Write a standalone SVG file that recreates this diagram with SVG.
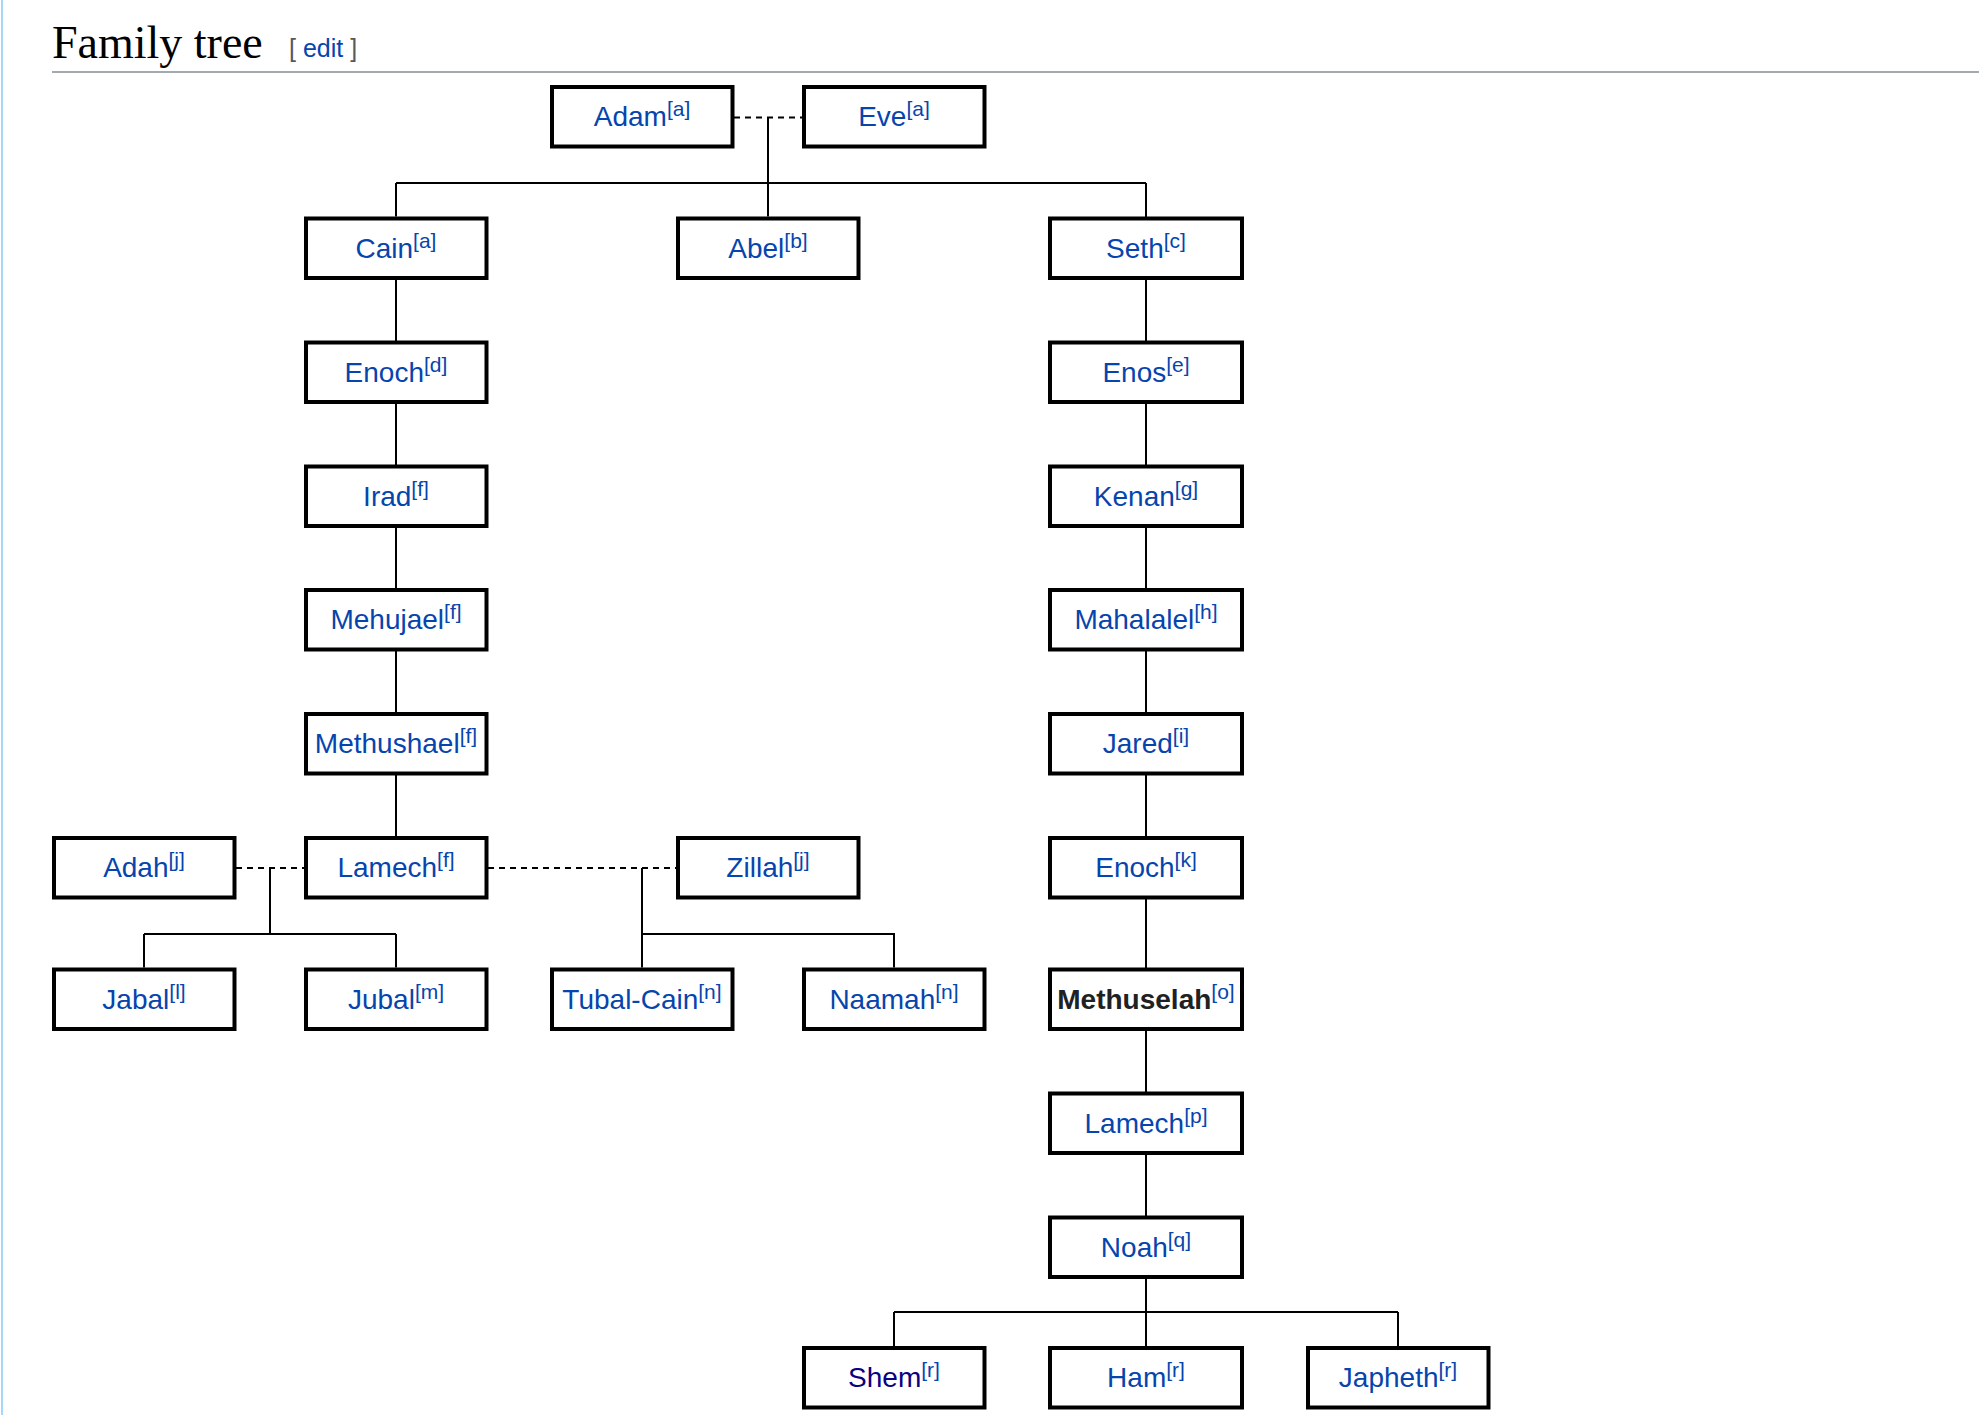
<svg xmlns="http://www.w3.org/2000/svg" width="1979" height="1415" viewBox="0 0 1979 1415">
<style>
.box{fill:#fff;stroke:#000;stroke-width:4}
.lbl{font-family:"Liberation Sans",Arial,Helvetica,sans-serif;font-size:28px;fill:#0645ad;text-anchor:middle}
.sup{font-size:21px}
.conn{fill:none;stroke:#000;stroke-width:2}
.dash{stroke-dasharray:6 5}
.title{font-family:"Liberation Serif","Times New Roman",serif;font-size:46px;fill:#000}
.edit{font-family:"Liberation Sans",Arial,sans-serif;font-size:25px;fill:#54595d}
</style>
<rect x="0" y="0" width="1979" height="1415" fill="#fff"/>
<rect x="1" y="0" width="2" height="1415" fill="#a7d7f9"/>
<g id="heading">
<text class="title" x="52" y="58">Family tree</text>
<text class="edit" x="289" y="57">[ <tspan fill="#0645ad">edit</tspan> ]</text>
<rect x="52" y="71" width="1927" height="2" fill="#a2a9b1"/>
</g>
<g id="connectors">
<path class="conn dash" d="M734 117.5H802M236 868H304M488 868H676"/>
<path class="conn" d="M768 117.5V216.5M396 183H1146M396 183V216.5M1146 183V1346M396 280V836M270 868V934M144 934H396M144 934V967.5M396 934V967.5M642 868V934H894V967.5M642 934V967.5M894 1312H1398M894 1312V1346M1398 1312V1346"/>
</g>
<g id="adam"><rect class="box" x="552" y="87" width="180.5" height="59.5"/><text class="lbl" x="642" y="126">Adam<tspan class="sup" dy="-10">[a]</tspan></text></g>
<g id="eve"><rect class="box" x="804" y="87" width="180.5" height="59.5"/><text class="lbl" x="894" y="126">Eve<tspan class="sup" dy="-10">[a]</tspan></text></g>
<g id="cain"><rect class="box" x="306" y="218.5" width="180.5" height="59.5"/><text class="lbl" x="396" y="257.5">Cain<tspan class="sup" dy="-10">[a]</tspan></text></g>
<g id="abel"><rect class="box" x="678" y="218.5" width="180.5" height="59.5"/><text class="lbl" x="768" y="257.5">Abel<tspan class="sup" dy="-10">[b]</tspan></text></g>
<g id="seth"><rect class="box" x="1050" y="218.5" width="192" height="59.5"/><text class="lbl" x="1146" y="257.5">Seth<tspan class="sup" dy="-10">[c]</tspan></text></g>
<g id="enoch-d"><rect class="box" x="306" y="342.5" width="180.5" height="59.5"/><text class="lbl" x="396" y="381.5">Enoch<tspan class="sup" dy="-10">[d]</tspan></text></g>
<g id="enos"><rect class="box" x="1050" y="342.5" width="192" height="59.5"/><text class="lbl" x="1146" y="381.5">Enos<tspan class="sup" dy="-10">[e]</tspan></text></g>
<g id="irad"><rect class="box" x="306" y="466.5" width="180.5" height="59.5"/><text class="lbl" x="396" y="505.5">Irad<tspan class="sup" dy="-10">[f]</tspan></text></g>
<g id="kenan"><rect class="box" x="1050" y="466.5" width="192" height="59.5"/><text class="lbl" x="1146" y="505.5">Kenan<tspan class="sup" dy="-10">[g]</tspan></text></g>
<g id="mehujael"><rect class="box" x="306" y="590" width="180.5" height="59.5"/><text class="lbl" x="396" y="629">Mehujael<tspan class="sup" dy="-10">[f]</tspan></text></g>
<g id="mahalalel"><rect class="box" x="1050" y="590" width="192" height="59.5"/><text class="lbl" x="1146" y="629">Mahalalel<tspan class="sup" dy="-10">[h]</tspan></text></g>
<g id="methushael"><rect class="box" x="306" y="714" width="180.5" height="59.5"/><text class="lbl" x="396" y="753">Methushael<tspan class="sup" dy="-10">[f]</tspan></text></g>
<g id="jared"><rect class="box" x="1050" y="714" width="192" height="59.5"/><text class="lbl" x="1146" y="753">Jared<tspan class="sup" dy="-10">[i]</tspan></text></g>
<g id="adah"><rect class="box" x="54" y="838" width="180.5" height="59.5"/><text class="lbl" x="144" y="877">Adah<tspan class="sup" dy="-10">[j]</tspan></text></g>
<g id="lamech-f"><rect class="box" x="306" y="838" width="180.5" height="59.5"/><text class="lbl" x="396" y="877">Lamech<tspan class="sup" dy="-10">[f]</tspan></text></g>
<g id="zillah"><rect class="box" x="678" y="838" width="180.5" height="59.5"/><text class="lbl" x="768" y="877">Zillah<tspan class="sup" dy="-10">[j]</tspan></text></g>
<g id="enoch-k"><rect class="box" x="1050" y="838" width="192" height="59.5"/><text class="lbl" x="1146" y="877">Enoch<tspan class="sup" dy="-10">[k]</tspan></text></g>
<g id="jabal"><rect class="box" x="54" y="969.5" width="180.5" height="59.5"/><text class="lbl" x="144" y="1008.5">Jabal<tspan class="sup" dy="-10">[l]</tspan></text></g>
<g id="jubal"><rect class="box" x="306" y="969.5" width="180.5" height="59.5"/><text class="lbl" x="396" y="1008.5">Jubal<tspan class="sup" dy="-10">[m]</tspan></text></g>
<g id="tubal-cain"><rect class="box" x="552" y="969.5" width="180.5" height="59.5"/><text class="lbl" x="642" y="1008.5">Tubal-Cain<tspan class="sup" dy="-10">[n]</tspan></text></g>
<g id="naamah"><rect class="box" x="804" y="969.5" width="180.5" height="59.5"/><text class="lbl" x="894" y="1008.5">Naamah<tspan class="sup" dy="-10">[n]</tspan></text></g>
<g id="methuselah"><rect class="box" x="1050" y="969.5" width="192" height="59.5"/><text class="lbl" x="1146" y="1008.5"><tspan fill="#202122" font-weight="bold">Methuselah</tspan><tspan class="sup" dy="-10">[o]</tspan></text></g>
<g id="lamech-p"><rect class="box" x="1050" y="1093.5" width="192" height="59.5"/><text class="lbl" x="1146" y="1132.5">Lamech<tspan class="sup" dy="-10">[p]</tspan></text></g>
<g id="noah"><rect class="box" x="1050" y="1217.5" width="192" height="59.5"/><text class="lbl" x="1146" y="1256.5">Noah<tspan class="sup" dy="-10">[q]</tspan></text></g>
<g id="shem"><rect class="box" x="804" y="1348" width="180.5" height="59.5"/><text class="lbl" x="894" y="1387"><tspan fill="#0b0080">Shem</tspan><tspan class="sup" dy="-10">[r]</tspan></text></g>
<g id="ham"><rect class="box" x="1050" y="1348" width="192" height="59.5"/><text class="lbl" x="1146" y="1387">Ham<tspan class="sup" dy="-10">[r]</tspan></text></g>
<g id="japheth"><rect class="box" x="1308" y="1348" width="180.5" height="59.5"/><text class="lbl" x="1398" y="1387">Japheth<tspan class="sup" dy="-10">[r]</tspan></text></g>
</svg>
